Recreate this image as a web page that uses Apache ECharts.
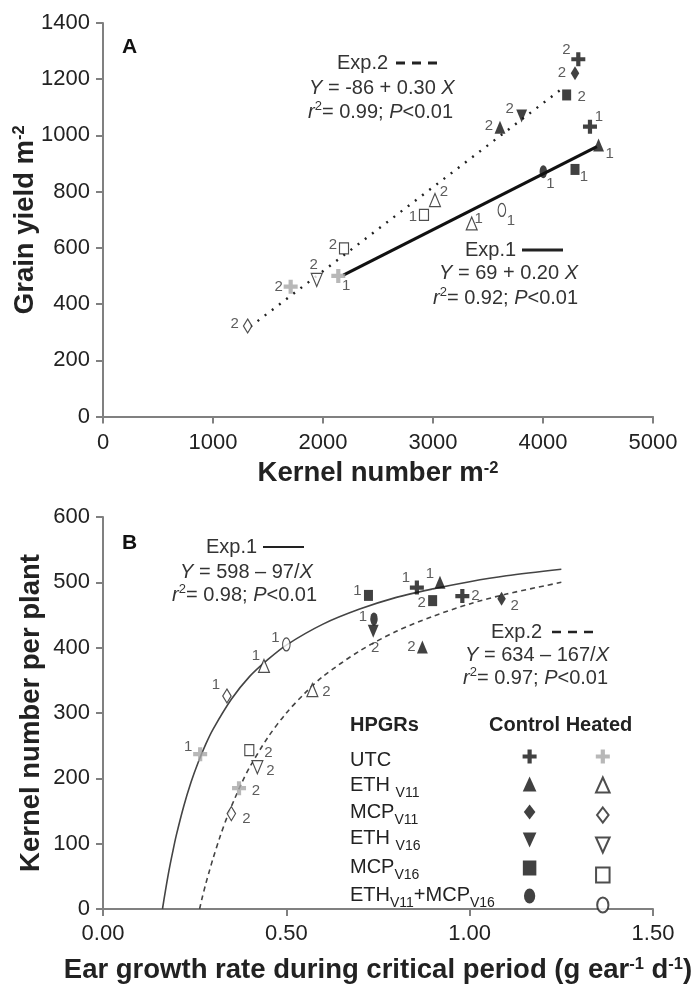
<!DOCTYPE html>
<html><head><meta charset="utf-8">
<script src="https://cdn.jsdelivr.net/npm/echarts@6/dist/echarts.min.js"></script>
<style>html,body{margin:0;padding:0;background:#fff}#c{width:695px;height:985px}</style>
</head><body><div id="c"></div>
<script>
// ---------- DATA ----------
const treatments = ['UTC', 'ETH V11', 'MCP V11', 'ETH V16', 'MCP V16', 'ETH V11+MCP V16'];

// Panel A: kernel number m-2 (x) vs grain yield m-2 (y)
const kernelExp1Control = [4427, 4505, null, null, 4291, 4003];
const yieldExp1Control  = [1031, 966, null, null, 879, 871];
const kernelExp1Heated  = [2139, 3352, null, null, 2918, 3626];
const yieldExp1Heated   = [500, 687, null, null, 717, 735];
const kernelExp2Control = [4321, 3609, 4291, 3806, 4215, null];
const yieldExp2Control  = [1271, 1029, 1221, 1069, 1144, null];
const kernelExp2Heated  = [1706, 3018, 1315, 1943, 2191, null];
const yieldExp2Heated   = [462, 770, 322, 486, 598, null];

// Panel A regression lines (end points)
const fitA1X = [2185, 4490];
const fitA1Y = [503, 960];
const fitA2X = [1340, 4185];
const fitA2Y = [320, 1170];

// Panel B: ear growth rate (x) vs kernel number per plant (y)
const egrExp1Control = [0.856, 0.919, null, null, 0.724, 0.739];
const knpExp1Control = [492, 500, null, null, 480, 444];
const egrExp1Heated  = [0.265, 0.439, 0.338, null, null, 0.500];
const knpExp1Heated  = [237, 372, 326, null, null, 405];
const egrExp2Control = [0.980, 0.871, 1.087, 0.737, 0.899, null];
const knpExp2Control = [479, 401, 475, 425, 472, null];
const egrExp2Heated  = [0.371, 0.571, 0.350, 0.421, 0.399, null];
const knpExp2Heated  = [185, 335, 146, 217, 243, null];

// Panel B fitted curves (Exp.1: Y = 598 - 97/X ; Exp.2: Y = 634 - 167/X)
const fitB1X = [0.1622, 0.17, 0.18, 0.19, 0.20, 0.22, 0.24, 0.26, 0.28, 0.30, 0.35, 0.40, 0.45, 0.50, 0.60, 0.70, 0.80, 0.90, 1.00, 1.10, 1.25];
const fitB1Y = [0, 27, 59, 87, 113, 157, 194, 225, 252, 275, 321, 356, 382, 404, 436, 459, 477, 490, 501, 510, 520];
const fitB2X = [0.2634, 0.27, 0.28, 0.29, 0.30, 0.32, 0.34, 0.36, 0.38, 0.40, 0.45, 0.50, 0.55, 0.60, 0.70, 0.80, 0.90, 1.00, 1.10, 1.25];
const fitB2Y = [0, 16, 38, 58, 77, 112, 143, 170, 195, 217, 263, 300, 330, 356, 395, 425, 448, 467, 482, 500];

// Tick labels
const xTicksA = ['0', '1000', '2000', '3000', '4000', '5000'];
const yTicksA = ['0', '200', '400', '600', '800', '1000', '1200', '1400'];
const xTicksB = ['0.00', '0.50', '1.00', '1.50'];
const yTicksB = ['0', '100', '200', '300', '400', '500', '600'];

// ---------- STYLE ----------
const FONT = "'Liberation Sans', Arial, Helvetica, sans-serif";
const INK = '#222';
const AXIS = '#808080';
const symbolDefs = [
  { path: 'path://M3.5,0L6.5,0L6.5,3.5L10,3.5L10,6.5L6.5,6.5L6.5,10L3.5,10L3.5,6.5L0,6.5L0,3.5L3.5,3.5Z', size: [14, 14] },
  { path: 'path://M5,0L10,11L0,11Z', size: [12, 13] },
  { path: 'path://M5,0L10,6.5L5,13L0,6.5Z', size: [11, 14] },
  { path: 'path://M0,0L10,0L5,11Z', size: [12, 13] },
  { path: 'path://M0,0L9,0L9,10L0,10Z', size: [10, 11] },
  { path: 'path://M4.5,0A4.5,6,0,1,1,4.5,12A4.5,6,0,1,1,4.5,0Z', size: [10, 13] }
];
// label offsets (px) of the "1"/"2" tags relative to each marker
const labelOffsetsA = {
  exp1Control: [[9, -10], [11, 9], null, null, [9, 7], [7, 12]],
  exp1Heated:  [[8, 10], [7, -5], null, null, [-11, 2], [9, 11]],
  exp2Control: [[-12, -9], [-11, -1], [-13, 0], [-12, -7], [15, 2], null],
  exp2Heated:  [[-12, 0], [9, -8], [-13, -2], [-3, -15], [-11, -4], null]
};
const labelOffsetsB = {
  exp1Control: [[-11, -10], [-10, -8], null, null, [-11, -5], [-11, -2]],
  exp1Heated:  [[-12, -7], [-8, -10], [-11, -11], null, null, [-11, -7]],
  exp2Control: [[13, 0], [-11, 0], [13, 7], [2, 17], [-11, 2], null],
  exp2Heated:  [[17, 3], [14, 2], [15, 5], [13, 4], [19, 3], null]
};

const panels = [
  { grid: 0, labels: labelOffsetsA,
    exp1: { Control: [kernelExp1Control, yieldExp1Control], Heated: [kernelExp1Heated, yieldExp1Heated] },
    exp2: { Control: [kernelExp2Control, yieldExp2Control], Heated: [kernelExp2Heated, yieldExp2Heated] } },
  { grid: 1, labels: labelOffsetsB,
    exp1: { Control: [egrExp1Control, knpExp1Control], Heated: [egrExp1Heated, knpExp1Heated] },
    exp2: { Control: [egrExp2Control, knpExp2Control], Heated: [egrExp2Heated, knpExp2Heated] } }
];

const series = [];
const zip = (xs, ys) => xs.map((x, i) => [x, ys[i]]);
series.push({ type: 'line', name: 'A Exp.1 fit', xAxisIndex: 0, yAxisIndex: 0, data: zip(fitA1X, fitA1Y), symbol: 'none', silent: true, z: 2,
  lineStyle: { color: '#111', width: 3.2 } });
series.push({ type: 'line', name: 'A Exp.2 fit', xAxisIndex: 0, yAxisIndex: 0, data: zip(fitA2X, fitA2Y), symbol: 'none', silent: true, z: 2,
  lineStyle: { color: '#222', width: 2.4, type: [2, 7] } });
series.push({ type: 'line', name: 'B Exp.1 fit', xAxisIndex: 1, yAxisIndex: 1, data: zip(fitB1X, fitB1Y), symbol: 'none', silent: true, z: 2, smooth: 0.3,
  lineStyle: { color: '#444', width: 1.6 } });
series.push({ type: 'line', name: 'B Exp.2 fit', xAxisIndex: 1, yAxisIndex: 1, data: zip(fitB2X, fitB2Y), symbol: 'none', silent: true, z: 2, smooth: 0.3,
  lineStyle: { color: '#444', width: 1.6, type: [5, 4] } });

panels.forEach(p => {
  treatments.forEach((t, i) => {
    ['Control', 'Heated'].forEach(cond => {
      const data = [];
      [['exp1', '1'], ['exp2', '2']].forEach(([e, tag]) => {
        const [xs, ys] = p[e][cond];
        if (xs[i] == null) return;
        data.push({ value: [xs[i], ys[i]], label: { formatter: tag, offset: p.labels[e + cond][i] } });
      });
      const open = cond === 'Heated' && i > 0;
      series.push({
        type: 'scatter', name: t + ' ' + cond, xAxisIndex: p.grid, yAxisIndex: p.grid,
        symbol: symbolDefs[i].path, symbolSize: symbolDefs[i].size, symbolKeepAspect: true,
        itemStyle: open ? { color: '#fff', borderColor: '#222', borderWidth: 1.2 }
                        : { color: cond === 'Heated' ? '#a6a6a6' : '#111', borderWidth: 0 },
        label: { show: true, position: 'inside', fontSize: 15, color: '#333', fontFamily: FONT, textBorderWidth: 0 },
        emphasis: { disabled: true },
        data, z: 5
      });
    });
  });
});

// ---------- ANNOTATIONS ----------
const rich = {
  i: { fontStyle: 'italic', fontSize: 20, fontFamily: FONT, fill: '#333', color: '#333' },
  sup: { fontSize: 13, fontFamily: FONT, verticalAlign: 'top', lineHeight: 13, color: '#333' },
  sub: { fontSize: 14, fontFamily: FONT, verticalAlign: 'bottom', lineHeight: 14, color: '#222' }
};
function txt(x, y, text, o = {}) {
  return { type: 'text', x, y, silent: true, z: 10,
    style: { text, fontSize: o.size || 20, fontWeight: o.bold ? 'bold' : 'normal', fontFamily: FONT,
      fill: o.fill || '#333', align: 'left', verticalAlign: 'middle', lineHeight: o.lh || 24, rich } };
}
function seg(x1, x2, y, w, dash) {
  return { type: 'line', silent: true, z: 10, shape: { x1, y1: y, x2, y2: y },
    style: { stroke: '#222', lineWidth: w, lineDash: dash || null } };
}
const elements = [
  txt(122, 47, 'A', { bold: true, size: 21, fill: '#111' }),
  txt(337, 63, 'Exp.2'), seg(396, 437, 63, 3, [9, 7]),
  txt(309, 88, '{i|Y} = -86 + 0.30 {i|X}'),
  txt(308, 112, '{i|r}{sup|2}= 0.99; {i|P}<0.01'),
  txt(465, 250, 'Exp.1'), seg(522, 563, 250, 3),
  txt(439, 273, '{i|Y} = 69 + 0.20 {i|X}'),
  txt(433, 298, '{i|r}{sup|2}= 0.92; {i|P}<0.01'),
  txt(122, 543, 'B', { bold: true, size: 21, fill: '#111' }),
  txt(206, 547, 'Exp.1'), seg(263, 304, 547, 2),
  txt(180, 572, '{i|Y} = 598 – 97/{i|X}'),
  txt(172, 595, '{i|r}{sup|2}= 0.98; {i|P}<0.01'),
  txt(491, 632, 'Exp.2'), seg(552, 594, 632, 2.5, [9, 7]),
  txt(465, 655, '{i|Y} = 634 – 167/{i|X}'),
  txt(463, 678, '{i|r}{sup|2}= 0.97; {i|P}<0.01'),
  txt(350, 725, 'HPGRs', { bold: true, fill: '#222' }),
  txt(489, 725, 'Control Heated', { bold: true, fill: '#222' }),
  txt(350, 760, 'UTC', { fill: '#222', lh: 30 }),
  txt(350, 785, 'ETH {sub|V11}', { fill: '#222', lh: 30 }),
  txt(350, 812, 'MCP{sub|V11}', { fill: '#222', lh: 30 }),
  txt(350, 838, 'ETH {sub|V16}', { fill: '#222', lh: 30 }),
  txt(350, 867, 'MCP{sub|V16}', { fill: '#222', lh: 30 }),
  txt(350, 895, 'ETH{sub|V11}+MCP{sub|V16}', { fill: '#222', lh: 30 })
];

// ---------- AXES ----------
const nameStyle = { fontSize: 27.5, fontWeight: 'bold', color: INK, fontFamily: FONT,
  rich: { sup: { fontSize: 16.5, fontWeight: 'bold', color: INK, fontFamily: FONT, verticalAlign: 'top', lineHeight: 16 } } };
function axis(o) {
  return Object.assign({
    type: 'value',
    axisLine: { show: true, onZero: false, lineStyle: { color: AXIS, width: 2 } },
    axisTick: { show: true, inside: false, length: 7, lineStyle: { color: AXIS, width: 2 } },
    splitLine: { show: false },
    nameLocation: 'middle', nameMoveOverlap: false, nameTextStyle: nameStyle
  }, o);
}
const tickFont = { fontSize: 22, color: INK, fontFamily: FONT };
const option = {
  animation: false,
  textStyle: { fontFamily: FONT },
  grid: [
    { left: 103, top: 23, width: 550, height: 393.5 },
    { left: 103, top: 517, width: 550, height: 396 }
  ],
  xAxis: [
    axis({ gridIndex: 0, min: 0, max: 5000, interval: 1000, name: 'Kernel number m{sup|-2}', nameGap: 43,
      axisLabel: Object.assign({ margin: 15, formatter: v => xTicksA[Math.round(v / 1000)] }, tickFont) }),
    axis({ gridIndex: 1, min: 0, max: 1.5, interval: 0.5, name: 'Ear growth rate during critical period (g ear{sup|-1} d{sup|-1})', nameGap: 47,
      axisLabel: Object.assign({ margin: 14, formatter: v => xTicksB[Math.round(v / 0.5)] }, tickFont) })
  ],
  yAxis: [
    axis({ gridIndex: 0, min: 0, max: 1400, interval: 200, name: 'Grain yield m{sup|-2}', nameGap: 64,
      axisLabel: Object.assign({ margin: 13, formatter: v => yTicksA[Math.round(v / 200)] }, tickFont) }),
    axis({ gridIndex: 1, min: 0, max: 600, interval: 100, name: 'Kernel number per plant', nameGap: 58,
      axisLabel: Object.assign({ margin: 13, formatter: v => yTicksB[Math.round(v / 100)] }, tickFont) })
  ],
  legend: ['Control', 'Heated'].map((cond, k) => ({
    data: treatments.map(t => t + ' ' + cond),
    orient: 'vertical', left: k === 0 ? 522.6 : 595, top: 749.5, padding: 0,
    itemWidth: 14, itemHeight: 15, itemGap: 13, selectedMode: false,
    formatter: () => '', textStyle: { fontSize: 8, lineHeight: 8 }
  })),
  graphic: { elements },
  series
};
const chart = echarts.init(document.getElementById('c'), null, { renderer: 'canvas' });
chart.setOption(option);
</script>
</body></html>
